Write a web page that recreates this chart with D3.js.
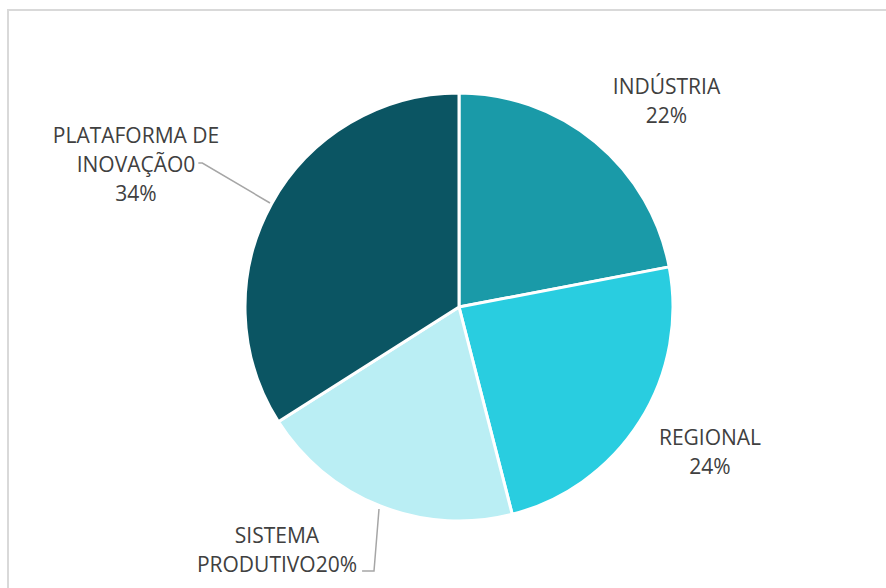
<!DOCTYPE html>
<html><head><meta charset="utf-8">
<script src="https://cdn.jsdelivr.net/npm/d3@7"></script>
<style>body{margin:0;background:#fff}svg{display:block}text{font-family:"Open Sans",sans-serif;font-size:21px;fill:#404040}</style>
</head><body><svg id="c" width="886" height="588"></svg>
<script>
const categories = ["INDÚSTRIA", "REGIONAL", "SISTEMA PRODUTIVO", "PLATAFORMA DE INOVAÇÃO"];
const values = [22, 24, 20, 34];
const colors = ["#1A9AA8", "#29CDE0", "#BAEEF4", "#0B5563"];
const labelLines = [["INDÚSTRIA", "22%"], ["REGIONAL", "24%"], ["SISTEMA", "PRODUTIVO20%"], ["PLATAFORMA DE", "INOVAÇÃO0", "34%"]];

const svg = d3.select("#c");
svg.append("rect").attr("x", 8).attr("y", 10).attr("width", 900).attr("height", 600)
  .attr("fill", "none").attr("stroke", "#d9d9d9").attr("stroke-width", 2);

const cx = 459, cy = 307, r = 214;
const pie = d3.pie().sort(null).value(d => d)(values);
const arc = d3.arc().innerRadius(0).outerRadius(r);
const g = svg.append("g").attr("transform", `translate(${cx},${cy})`);
g.selectAll("path").data(pie).join("path").attr("d", arc)
  .attr("fill", (d, i) => colors[i]).attr("stroke", "#fff").attr("stroke-width", 3).attr("stroke-linejoin", "round");

// label anchor positions (text centers, first baseline)
const labelPos = [[666.5, 94], [710, 445], [277, 543], [136, 143]];
const lh = 29;
const spans = [];
labelLines.forEach((lines, i) => {
  const t = svg.append("text").attr("text-anchor", "middle");
  spans.push(lines.map((s, j) => t.append("tspan").attr("x", labelPos[i][0]).attr("y", labelPos[i][1] + j * lh).text(s)));
});

// leader lines, starting just after the label text
const platEnd = labelPos[3][0] + spans[3][1].node().getComputedTextLength() / 2 + 3;
const sisEnd = labelPos[2][0] + spans[2][1].node().getComputedTextLength() / 2 + 5;
svg.append("polyline").attr("fill", "none").attr("stroke", "#a6a6a6").attr("stroke-width", 1.5)
  .attr("points", [[platEnd, 163], [Math.max(platEnd + 4, 200), 163], [270, 203]].join(" "));
svg.append("polyline").attr("fill", "none").attr("stroke", "#a6a6a6").attr("stroke-width", 1.5)
  .attr("points", [[sisEnd, 571], [374, 571], [379, 509]].join(" "));
</script></body></html>
